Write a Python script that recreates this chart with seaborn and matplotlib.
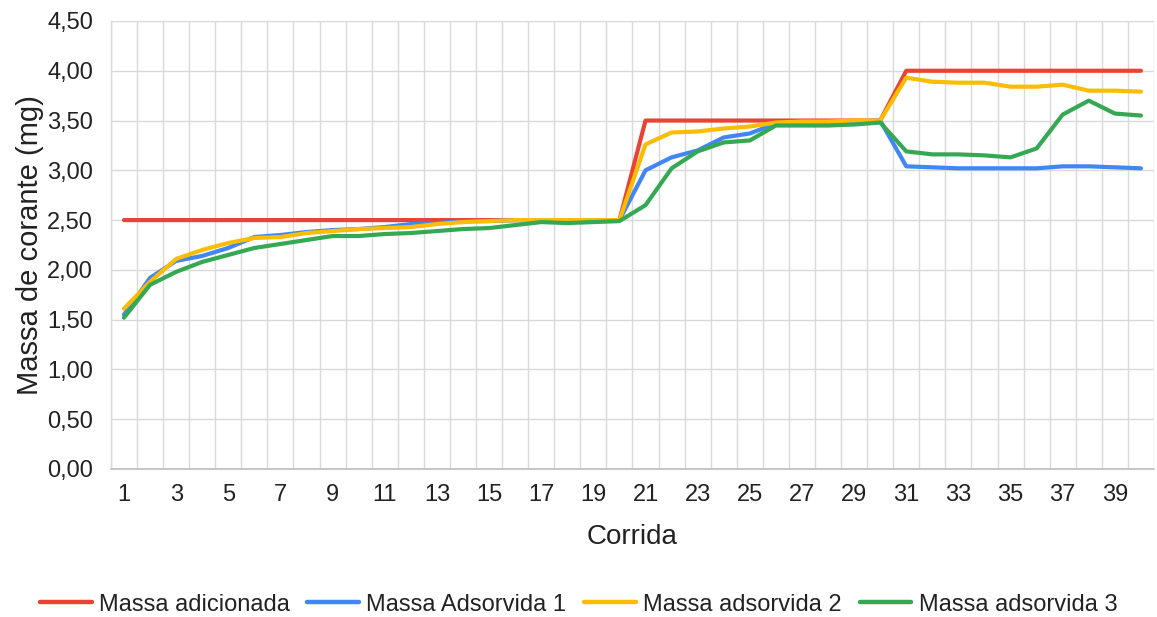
import numpy as np
import pandas as pd
import matplotlib
matplotlib.use("Agg")
import matplotlib.pyplot as plt
import seaborn as sns
from matplotlib.ticker import FuncFormatter, MultipleLocator

# Runs (Corrida) 1..40
corrida = list(range(1, 41))

massa_adicionada = [2.50] * 20 + [3.50] * 10 + [4.00] * 10

massa_adsorvida_1 = [
    1.55, 1.92, 2.09, 2.14, 2.22, 2.33, 2.35, 2.38, 2.40, 2.41,
    2.43, 2.46, 2.47, 2.49, 2.49, 2.50, 2.50, 2.50, 2.50, 2.50,
    3.00, 3.13, 3.20, 3.33, 3.37, 3.47, 3.49, 3.49, 3.49, 3.50,
    3.04, 3.03, 3.02, 3.02, 3.02, 3.02, 3.04, 3.04, 3.03, 3.02,
]

massa_adsorvida_2 = [
    1.61, 1.88, 2.11, 2.20, 2.27, 2.32, 2.33, 2.37, 2.39, 2.41,
    2.42, 2.43, 2.46, 2.48, 2.49, 2.50, 2.50, 2.50, 2.50, 2.50,
    3.26, 3.38, 3.39, 3.42, 3.44, 3.48, 3.49, 3.49, 3.50, 3.50,
    3.93, 3.89, 3.88, 3.88, 3.84, 3.84, 3.86, 3.80, 3.80, 3.79,
]

massa_adsorvida_3 = [
    1.52, 1.85, 1.98, 2.08, 2.15, 2.22, 2.26, 2.30, 2.34, 2.34,
    2.36, 2.37, 2.39, 2.41, 2.42, 2.45, 2.48, 2.47, 2.48, 2.49,
    2.65, 3.02, 3.19, 3.28, 3.30, 3.45, 3.45, 3.45, 3.46, 3.48,
    3.19, 3.16, 3.16, 3.15, 3.13, 3.22, 3.56, 3.70, 3.57, 3.55,
]

series_names = ["Massa adicionada", "Massa Adsorvida 1",
                "Massa adsorvida 2", "Massa adsorvida 3"]
series_colors = ["#EA4335", "#4285F4", "#FBBC04", "#34A853"]

df = pd.DataFrame({
    "Corrida": corrida * 4,
    "Massa": massa_adicionada + massa_adsorvida_1 + massa_adsorvida_2 + massa_adsorvida_3,
    "Serie": sum([[n] * len(corrida) for n in series_names], []),
})

sns.set_theme(style="white")
plt.rcParams["font.family"] = ["Liberation Sans", "DejaVu Sans"]

fig = plt.figure(figsize=(11.57, 6.17), dpi=100)
ax = fig.add_axes([0.0959, 0.2399, 0.9015, 0.7261])

sns.lineplot(data=df, x="Corrida", y="Massa", hue="Serie",
             hue_order=series_names, palette=series_colors,
             linewidth=3.0, ax=ax, legend=True)

ax.set_xlim(0.5, 40.5)
ax.set_ylim(0, 4.5)

# Category-style gridlines between runs, labels on odd runs
ax.set_xticks([c + 0.5 for c in [0] + corrida], minor=True)
ax.set_xticks(corrida[::2])
ax.grid(which="minor", axis="x", color="#d9d9d9", linewidth=1.0)
ax.grid(which="major", axis="x", visible=False)
ax.yaxis.set_major_locator(MultipleLocator(0.5))
ax.grid(which="major", axis="y", color="#d9d9d9", linewidth=1.0)
ax.yaxis.set_major_formatter(FuncFormatter(lambda v, p: f"{v:.2f}".replace(".", ",")))

ax.tick_params(axis="both", which="both", length=0, labelsize=17, colors="#222222")
ax.tick_params(axis="y", pad=13)
ax.tick_params(axis="x", pad=11)

for side in ["top", "right"]:
    ax.spines[side].set_visible(False)
ax.spines["left"].set_color("#d9d9d9")
ax.spines["left"].set_linewidth(1.0)
ax.spines["bottom"].set_color("#bdbdbd")
ax.spines["bottom"].set_linewidth(1.2)
ax.set_axisbelow(True)

ax.set_xlabel("Corrida", fontsize=20, color="#222222", labelpad=13)
ax.set_ylabel("Massa de corante (mg)", fontsize=21, color="#222222", labelpad=2)

handles, labels = ax.get_legend_handles_labels()
ax.get_legend().remove()
leg = fig.legend(handles, labels, loc="center", bbox_to_anchor=(0.5, 0.02),
                 ncol=4, frameon=False, fontsize=17, handlelength=2.2,
                 handletextpad=0.3, columnspacing=0.75)
for line in leg.get_lines():
    line.set_linewidth(3.2)
for t in leg.get_texts():
    t.set_color("#222222")

fig.savefig("out.png", dpi=100)
